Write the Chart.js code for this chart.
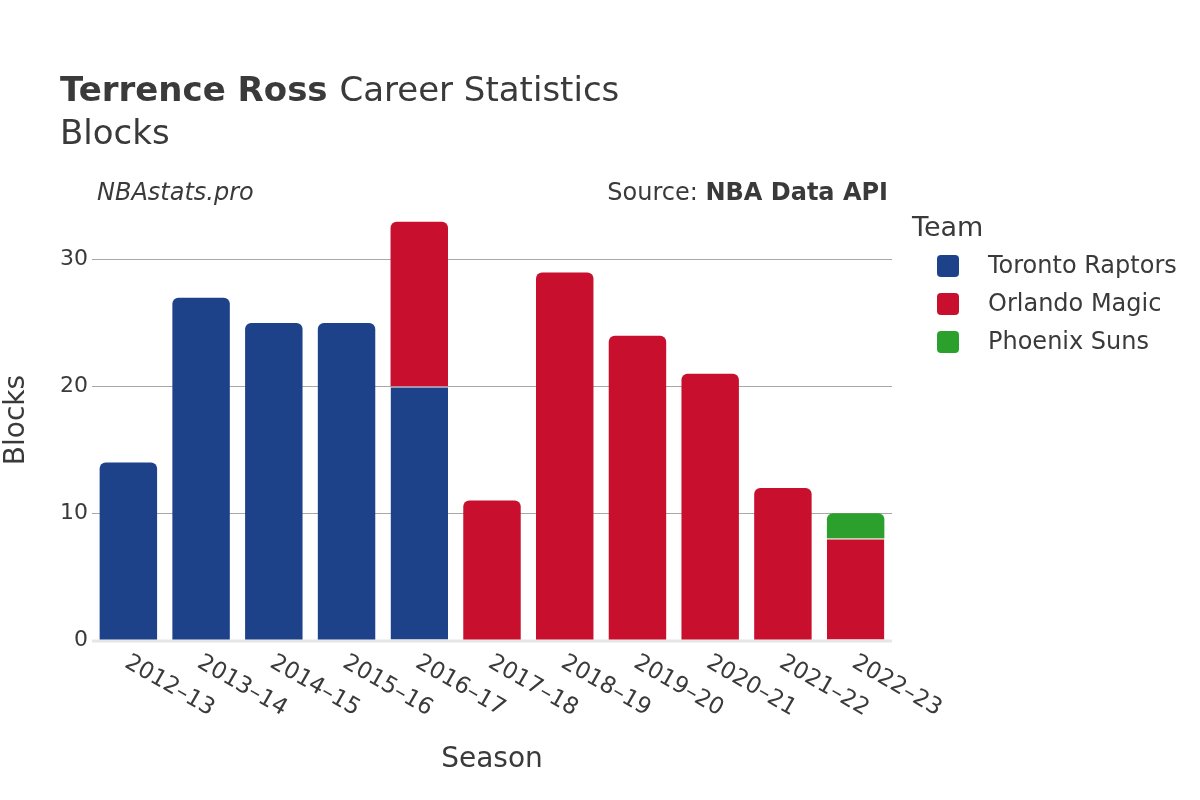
<!DOCTYPE html>
<html><head><meta charset="utf-8">
<script src="https://cdn.jsdelivr.net/npm/chart.js@4"></script>
<style>html,body{margin:0;padding:0;background:#fff}#wrap{width:1200px;height:800px}</style>
</head><body><div id="wrap"><canvas id="c" width="1200" height="800"></canvas></div>
<script>
const seasons = ["2012\u201313","2013\u201314","2014\u201315","2015\u201316","2016\u201317","2017\u201318","2018\u201319","2019\u201320","2020\u201321","2021\u201322","2022\u201323"];
const torontoBlocks = [14,27,25,25,20,null,null,null,null,null,null];
const orlandoBlocks = [null,null,null,null,13,11,29,24,21,12,8];
const phoenixBlocks = [null,null,null,null,null,null,null,null,null,null,2];
const teamNames = ["Toronto Raptors","Orlando Magic","Phoenix Suns"];
const teamColors = ["#1d428a","#c8102e","#2ca02c"];
const yTicks = [0,10,20,30];

const FONT = "'DejaVu Sans', sans-serif";
const TXT = "#3a3a3a";

function isTop(ctx){
  const ds = ctx.chart.data.datasets;
  const i = ctx.dataIndex;
  for (let d = ctx.datasetIndex+1; d < ds.length; d++){ if (ds[d].data[i]) return false; }
  return true;
}

const decor = {
  id:'decor',
  afterDraw(chart){
    const c = chart.ctx, ca = chart.chartArea;
    c.save();
    c.fillStyle = TXT;
    c.textBaseline = 'alphabetic';
    c.textAlign = 'left';
    c.font = "bold 34px " + FONT;
    c.fillText("Terrence Ross", 60, 101);
    const w = c.measureText("Terrence Ross ").width;
    c.font = "34px " + FONT;
    c.fillText("Career Statistics", 60 + w, 101);
    c.fillText("Blocks", 60, 144);
    c.font = "italic 24px " + FONT;
    c.fillText("NBAstats.pro", 97, 200);
    c.textAlign = 'right';
    c.font = "bold 24px " + FONT;
    c.fillText("NBA Data API", 888, 200);
    const bw = c.measureText("NBA Data API").width;
    c.font = "24px " + FONT;
    c.fillText("Source: ", 888 - bw, 200);
    // legend
    c.textAlign = 'left';
    c.font = "27px " + FONT;
    c.fillText("Team", 912, 236);
    c.font = "24px " + FONT;
    teamNames.forEach((n,k)=>{
      const y = 266 + k*38;
      c.fillStyle = teamColors[k];
      c.beginPath();
      c.roundRect(937, y-11, 22, 22, 4);
      c.fill();
      c.fillStyle = TXT;
      c.textBaseline = 'middle';
      c.fillText(n, 988, y+1);
    });
    // axis titles
    c.textBaseline = 'middle';
    c.textAlign = 'center';
    c.font = "28px " + FONT;
    c.fillText("Season", (ca.left+ca.right)/2, 760);
    c.save();
    c.translate(17, 420);
    c.rotate(-Math.PI/2);
    c.fillText("Blocks", 0, 0);
    c.restore();
    // x tick labels, rotated 30deg downwards
    const xs = chart.scales.x;
    c.font = "23px " + FONT;
    c.textAlign = 'left';
    c.textBaseline = 'middle';
    seasons.forEach((s,i)=>{
      const px = xs.getPixelForValue(i);
      c.save();
      c.translate(px - 2, 661);
      c.rotate(Math.PI/6);
      c.fillText(s, 0, 0);
      c.restore();
    });
    c.restore();
  }
};

const zeroLine = {
  id:'zeroLine',
  beforeDatasetsDraw(chart){
    const c = chart.ctx, ca = chart.chartArea, y = chart.scales.y.getPixelForValue(0);
    c.save();
    c.strokeStyle = "#e6e6e6";
    c.lineWidth = 3;
    c.beginPath(); c.moveTo(ca.left, y+1); c.lineTo(ca.right, y+1); c.stroke();
    c.restore();
  }
};

const mk = (label, data, color) => ({
  label, data, backgroundColor: color,
  borderColor: "#ffffff",
  borderWidth: (ctx)=> isTop(ctx) ? 0 : {top:1,left:0,right:0,bottom:0},
  borderSkipped: false,
  borderRadius: (ctx)=> isTop(ctx) ? {topLeft:6, topRight:6, bottomLeft:0, bottomRight:0} : 0,
  categoryPercentage: 1.0,
  barPercentage: 0.79
});

new Chart(document.getElementById('c'), {
  type:'bar',
  data:{
    labels: seasons,
    datasets:[
      mk(teamNames[0], torontoBlocks, teamColors[0]),
      mk(teamNames[1], orlandoBlocks, teamColors[1]),
      mk(teamNames[2], phoenixBlocks, teamColors[2])
    ]
  },
  options:{
    responsive:false,
    animation:false,
    layout:{padding:{top:209,right:308,left:0,bottom:0}},
    plugins:{legend:{display:false},tooltip:{enabled:false},title:{display:false}},
    scales:{
      x:{
        stacked:true,
        grid:{display:false, drawTicks:false},
        border:{display:false},
        ticks:{display:false},
        afterFit(s){ s.height = 160; }
      },
      y:{
        stacked:true,
        min:0, max:34,
        afterBuildTicks(s){ s.ticks = yTicks.map(v=>({value:v})); },
        grid:{color:(ctx)=> ctx.tick && ctx.tick.value===0 ? 'rgba(0,0,0,0)' : '#a8a8a8', lineWidth:1, drawTicks:false},
        border:{display:false},
        ticks:{color:TXT, font:{family:FONT, size:22}, padding:4},
        afterFit(s){ s.width = 92; }
      }
    }
  },
  plugins:[zeroLine, decor]
});
</script>
</body></html>
